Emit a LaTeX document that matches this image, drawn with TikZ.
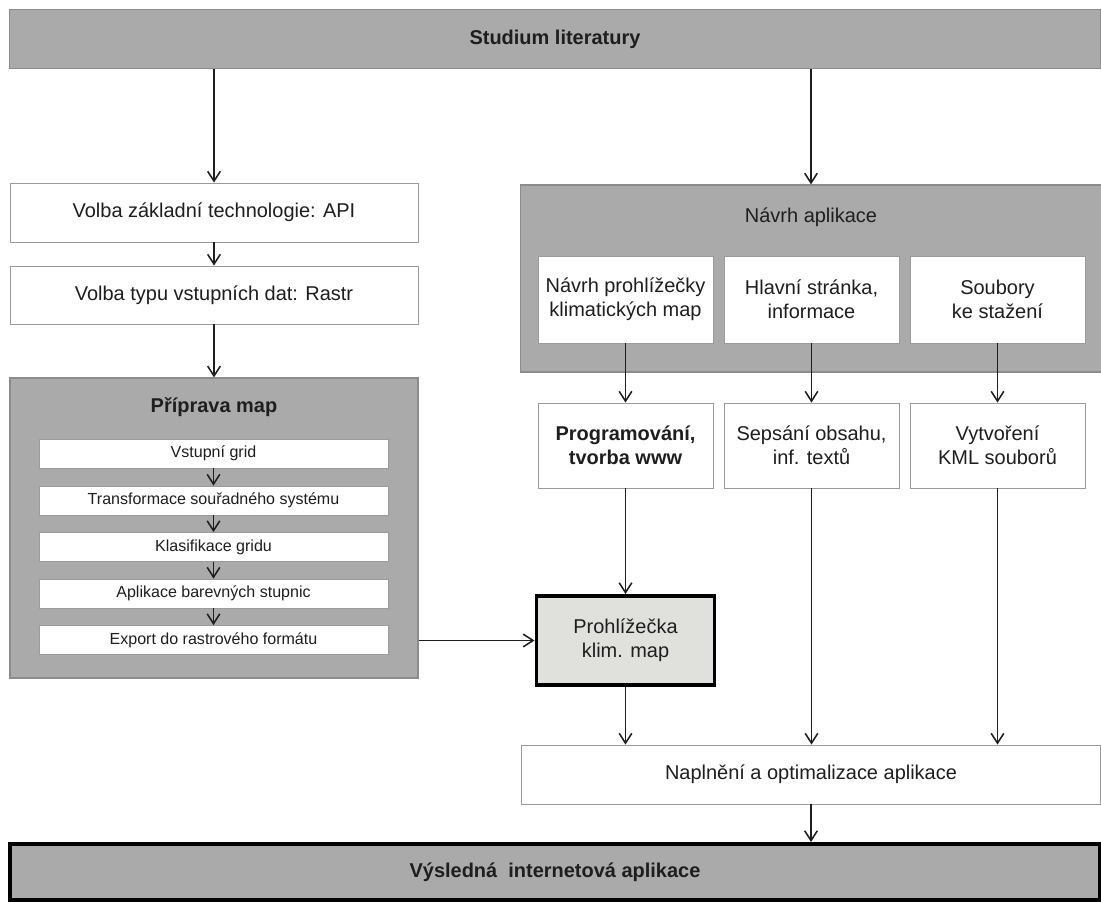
\documentclass[tikz,border=0pt]{standalone}
\usepackage{fontspec}
\setmainfont{Liberation Sans}
\usetikzlibrary{arrows.meta}
\definecolor{boxgray}{RGB}{170,170,170}
\definecolor{edgegray}{RGB}{140,140,140}
\definecolor{thingray}{RGB}{155,155,155}
\definecolor{viewer}{RGB}{224,224,220}
\definecolor{ink}{RGB}{30,30,30}
\begin{document}
\begin{tikzpicture}[x=0.025cm,y=-0.025cm,>={Straight Barb[length=7pt,width=9pt]},
  every node/.style={text=ink,inner sep=0pt,align=center,font=\fontsize{14.2}{17}\selectfont},
  wbox/.style={draw=thingray,fill=white,line width=0.6pt},
  gbox/.style={draw=edgegray,fill=boxgray,line width=0.8pt},
  gridbox/.style={wbox,minimum width=8.725cm,minimum height=0.725cm,font=\fontsize{11.4}{13}\selectfont},
  colbox/.style={wbox,minimum width=4.375cm},
  ttl/.style={font=\fontsize{14.2}{17}\selectfont\bfseries},
  arr/.style={->,draw=ink,line width=1.1pt}]
\useasboundingbox (0,0) rectangle (1101,902);

\node[gbox,ttl,minimum width=27.25cm,minimum height=1.475cm] (lit) at (555,39) {Studium literatury};

\node[wbox,minimum width=10.2cm,minimum height=1.475cm] (api) at (214,212.5) {Volba základní technologie: API};
\node[wbox,minimum width=10.2cm,minimum height=1.45cm] (rastr) at (214,295) {Volba typu vstupních dat: Rastr};

\node[gbox,minimum width=10.2cm,minimum height=7.5cm] (prip) at (214,528) {};
\node[ttl] (priptitle) at (214,407) {Příprava map};
\node[gridbox] (grid) at (213.5,453.5) {Vstupní grid};
\node[gridbox] (trans) at (213.5,500.5) {Transformace souřadného systému};
\node[gridbox] (klas) at (213.5,547) {Klasifikace gridu};
\node[gridbox] (stup) at (213.5,593.5) {Aplikace barevných stupnic};
\node[gridbox] (export) at (213.5,640) {Export do rastrového formátu};

\node[gbox,minimum width=14.5cm,minimum height=4.675cm] (navrh) at (811,278.5) {};
\node (navrhtitle) at (811,217) {Návrh aplikace};
\node[colbox,minimum height=2.175cm] (prohlnavrh) at (625.5,299.5) {Návrh prohlížečky\\klimatických map};
\node[colbox,minimum height=2.175cm] (hlavni) at (811.5,299.5) {Hlavní stránka,\\informace};
\node[colbox,minimum height=2.175cm] (soubory) at (997.5,299.5) {Soubory\\ke stažení};

\node[colbox,minimum height=2.125cm,font=\fontsize{14.2}{17}\selectfont\bfseries] (prog) at (625.5,445.5) {Programování,\\tvorba www};
\node[colbox,minimum height=2.125cm] (obsah) at (811.5,445.5) {Sepsání obsahu,\\inf. textů};
\node[colbox,minimum height=2.125cm] (kml) at (997.5,445.5) {Vytvoření\\KML souborů};

\node[draw=black,fill=viewer,line width=2.8pt,minimum width=4.45cm,minimum height=2.225cm] (prohl) at (625.5,640.5) {Prohlížečka\\klim. map};

\node[wbox,minimum width=14.475cm,minimum height=1.475cm] (napl) at (811,774.5) {Naplnění a optimalizace aplikace};

\node[draw=black,fill=boxgray,line width=2.8pt,ttl,minimum width=27.25cm,minimum height=1.4cm] (vysl) at (555,872) {Výsledná\ \ internetová aplikace};

\draw[arr] (lit.south -| api.north) -- (api.north);
\draw[arr] (lit.south -| navrh.north) -- (navrh.north);
\draw[arr] (api) -- (rastr);
\draw[arr] (rastr) -- (prip);
\draw[arr] (grid) -- (trans);
\draw[arr] (trans) -- (klas);
\draw[arr] (klas) -- (stup);
\draw[arr] (stup) -- (export);
\draw[arr] (prip.east |- prohl.west) -- (prohl.west);
\draw[arr] (prohlnavrh) -- (prog);
\draw[arr] (hlavni) -- (obsah);
\draw[arr] (soubory) -- (kml);
\draw[arr] (prog) -- (prohl);
\draw[arr] (prohl.south) -- (prohl.south |- napl.north);
\draw[arr] (obsah.south) -- (obsah.south |- napl.north);
\draw[arr] (kml.south) -- (kml.south |- napl.north);
\draw[arr] (napl.south) -- (napl.south |- vysl.north);
\end{tikzpicture}
\end{document}
